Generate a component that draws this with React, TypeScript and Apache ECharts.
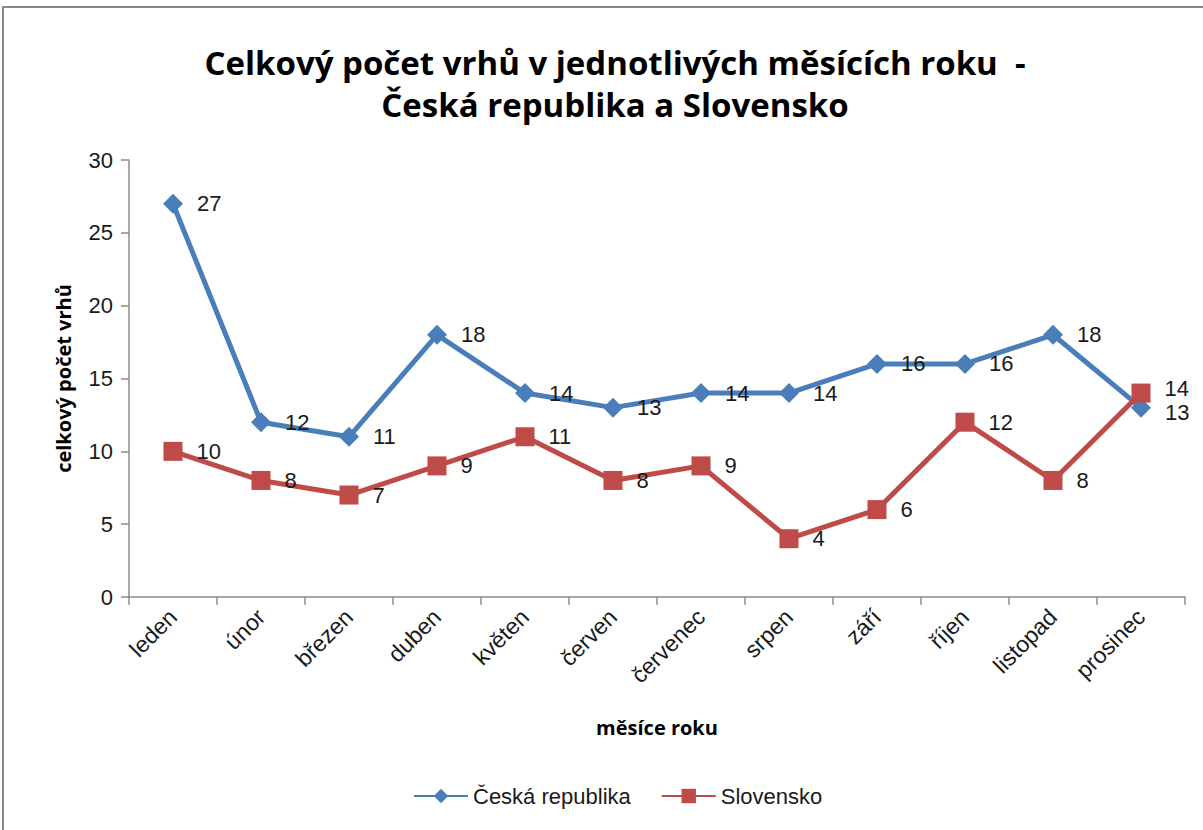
import React, { useEffect, useRef } from "react";
import * as echarts from "echarts";

const months = ["leden", "únor", "březen", "duben", "květen", "červen", "červenec", "srpen", "září", "říjen", "listopad", "prosinec"];
const czValues = [27, 12, 11, 18, 14, 13, 14, 14, 16, 16, 18, 13];
const skValues = [10, 8, 7, 9, 11, 8, 9, 4, 6, 12, 8, 14];
const seriesNames = ["Česká republika", "Slovensko"];
const titleLines = ["Celkový počet vrhů v jednotlivých měsících roku  -", "Česká republika a Slovensko"];

export default function App() {
  const ref = useRef<HTMLDivElement>(null);
  useEffect(() => {
    if (!ref.current) return;
    const chart = echarts.init(ref.current, undefined, { renderer: "svg" });
    const labelStyle = {
      show: true,
      position: "right" as const,
      distance: 14,
      fontFamily: "Liberation Sans",
      fontSize: 22,
      color: "#1a1a1a",
    };
    const last = months.length - 1;
    const czData = czValues.map((v, i) =>
      i === last ? { value: v, label: { offset: [0, 5] } } : v
    );
    const skData = skValues.map((v, i) =>
      i === last ? { value: v, label: { offset: [0, -5] } } : v
    );
    chart.setOption({
      animation: false,
      backgroundColor: "#ffffff",
      title: {
        text: titleLines.join("\n"),
        left: 610,
        textAlign: "center",
        top: 36,
        textStyle: {
          fontFamily: "Open Sans",
          fontWeight: "bold",
          fontSize: 33,
          lineHeight: 42,
          color: "#000000",
        },
      },
      graphic: [
        {
          type: "rect",
          shape: { x: 3, y: 7, width: 1260, height: 900 },
          style: { fill: "none", stroke: "#888888", lineWidth: 2 },
          silent: true,
        },
      ],
      legend: {
        bottom: 18,
        left: 408,
        itemWidth: 54,
        itemHeight: 18,
        itemGap: 30,
        textStyle: { fontFamily: "Liberation Sans", fontSize: 22, color: "#1a1a1a" },
        data: seriesNames,
      },
      grid: { left: 129, right: 18, top: 160, bottom: 233, containLabel: false },
      xAxis: {
        type: "category",
        data: months,
        boundaryGap: true,
        name: "měsíce roku",
        nameLocation: "middle",
        nameGap: 120,
        nameTextStyle: { fontFamily: "Open Sans", fontWeight: "bold", fontSize: 20, color: "#000" },
        axisLine: { lineStyle: { color: "#8c8c8c", width: 1.5 } },
        axisTick: { show: true, alignWithLabel: false, length: 8, lineStyle: { color: "#8c8c8c", width: 1.5 } },
        axisLabel: {
          rotate: 45,
          interval: 0,
          margin: 16,
          fontFamily: "Liberation Sans",
          fontSize: 23,
          color: "#1a1a1a",
        },
        splitLine: { show: false },
      },
      yAxis: {
        type: "value",
        min: 0,
        max: 30,
        interval: 5,
        name: "celkový počet vrhů",
        nameLocation: "middle",
        nameGap: 56,
        nameTextStyle: { fontFamily: "Open Sans", fontWeight: "bold", fontSize: 20, color: "#000" },
        axisLine: { show: true, lineStyle: { color: "#8c8c8c", width: 1.5 } },
        axisTick: { show: true, length: 8, lineStyle: { color: "#8c8c8c", width: 1.5 } },
        axisLabel: { margin: 16, fontFamily: "Liberation Sans", fontSize: 22, color: "#1a1a1a" },
        splitLine: { show: false },
      },
      series: [
        {
          name: seriesNames[0],
          type: "line",
          data: czData,
          symbol: "diamond",
          symbolSize: 20,
          lineStyle: { color: "#4A7EBB", width: 5 },
          itemStyle: { color: "#4A7EBB" },
          label: labelStyle,
        },
        {
          name: seriesNames[1],
          type: "line",
          data: skData,
          symbol: "rect",
          symbolSize: 19,
          lineStyle: { color: "#BE4B48", width: 5 },
          itemStyle: { color: "#BE4B48" },
          label: labelStyle,
        },
      ],
    });
    return () => chart.dispose();
  }, []);
  return (
    <div
      ref={ref}
      style={{ position: "fixed", left: 0, top: 0, width: 1203, height: 830 }}
    />
  );
}
